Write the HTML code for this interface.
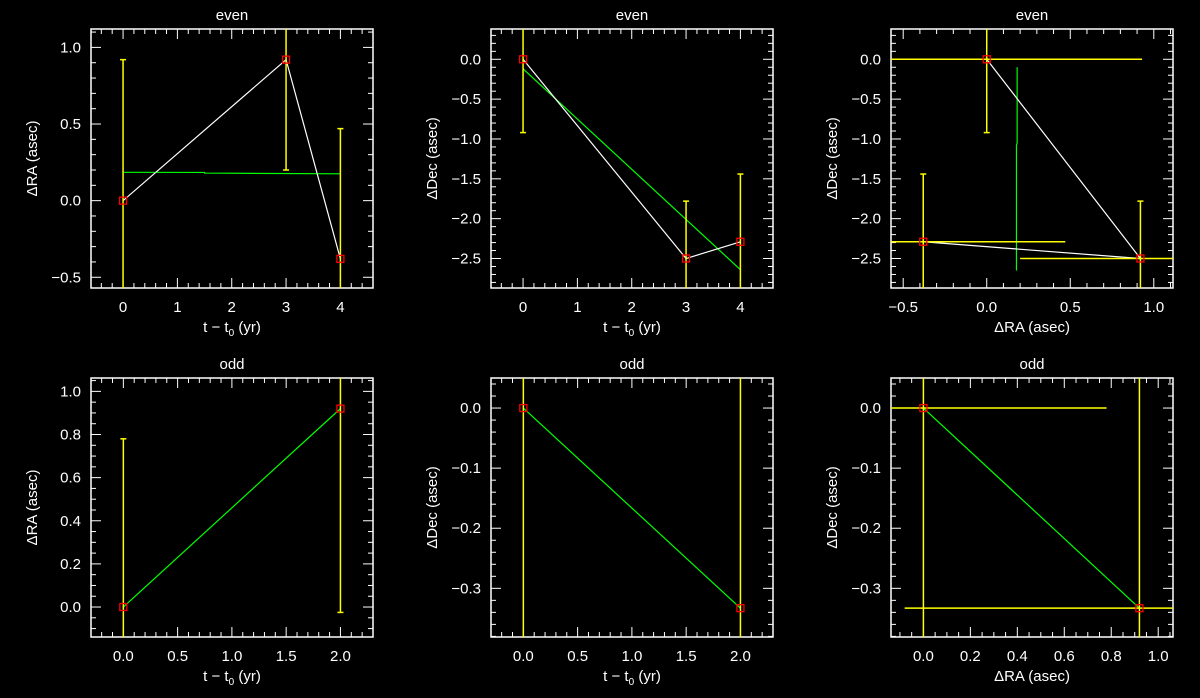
<!DOCTYPE html>
<html><head><meta charset="utf-8"><style>
html,body{margin:0;padding:0;background:#000;width:1200px;height:698px;overflow:hidden;}
svg{display:block;}
text{font-family:"Liberation Sans",sans-serif;fill:#fff;}
</style></head><body>
<svg id="chart" width="1200" height="698" viewBox="0 0 1200 698"></svg>
<script>
// Panel 1: even, RA vs t
const p1T=[0,3,4];
const p1RA=[0,0.92,-0.38];
const p1Err=[0.92,0.72,0.85];
const p1FitT=[0,1.5,1.5,4];
const p1FitV=[0.185,0.184,0.18,0.175];
// Panel 2: even, Dec vs t
const p2T=[0,3,4];
const p2Dec=[0,-2.5,-2.29];
const p2Err=[0.92,0.72,0.85];
const p2FitT=[0,4];
const p2FitV=[-0.12,-2.64];
// Panel 3: even, Dec vs RA
const p3RA=[0,0.92,-0.38];
const p3Dec=[0,-2.5,-2.29];
const p3ErrRA=[0.93,0.72,0.85];
const p3ErrDec=[0.92,0.72,0.85];
const p3FitRA=[0.182,0.182,0.178,0.178];
const p3FitDec=[-0.1,-1.05,-1.08,-2.65];
// Panel 4: odd, RA vs t
const p4T=[0,2];
const p4RA=[0,0.92];
const p4Err=[0.78,0.945];
// Panel 5: odd, Dec vs t
const p5T=[0,2];
const p5Dec=[0,-0.333];
const p5Err=[0.92,0.92];
// Panel 6: odd, Dec vs RA
const p6RA=[0,0.92];
const p6Dec=[0,-0.333];
const p6ErrRA=[0.78,1.0];
const p6ErrDec=[0.92,0.92];

const NS='http://www.w3.org/2000/svg';
const svg=document.getElementById('chart');
function mk(tag,attrs,parent){const e=document.createElementNS(NS,tag);for(const k in attrs)e.setAttribute(k,attrs[k]);(parent||svg).appendChild(e);return e;}

function fmt(v,d){let s=Math.abs(v)<1e-9?(0).toFixed(d):v.toFixed(d);return s.replace('-','\u2212');}

function panel(cfg){
  const g=mk('g',{});
  
  
  const L=cfg.box[0],R=cfg.box[1],T=cfg.box[2],B=cfg.box[3];
  const sx=v=>L+(v-cfg.xr[0])/(cfg.xr[1]-cfg.xr[0])*(R-L);
  const sy=v=>B-(v-cfg.yr[0])/(cfg.yr[1]-cfg.yr[0])*(B-T);
  const cid='clip'+cfg.id;
  const cp=mk('clipPath',{id:cid},g);mk('rect',{x:L,y:T,width:R-L,height:B-T},cp);
  const tg=mk('g',{stroke:'#fff','stroke-width':1},g);
  
  const eps=1e-9;
  for(let v=Math.ceil(cfg.xr[0]/cfg.xmin-eps)*cfg.xmin;v<=cfg.xr[1]+eps;v+=cfg.xmin){
    const maj=Math.abs(v/cfg.xmaj-Math.round(v/cfg.xmaj))<1e-6;const len=maj?10:5;const x=sx(v);
    mk('line',{x1:x,y1:B,x2:x,y2:B-len},tg);mk('line',{x1:x,y1:T,x2:x,y2:T+len},tg);
    if(maj){const t=mk('text',{x:x,y:B+24,'text-anchor':'middle','font-size':15},g);t.textContent=fmt(v,cfg.xd);
      }
  }
  for(let v=Math.ceil(cfg.yr[0]/cfg.ymin-eps)*cfg.ymin;v<=cfg.yr[1]+eps;v+=cfg.ymin){
    const maj=Math.abs(v/cfg.ymaj-Math.round(v/cfg.ymaj))<1e-6;const len=maj?10:5;const y=sy(v);
    mk('line',{x1:L,y1:y,x2:L+len,y2:y},tg);mk('line',{x1:R,y1:y,x2:R-len,y2:y},tg);
    if(maj){const t=mk('text',{x:L-10,y:y+5,'text-anchor':'end','font-size':15},g);t.textContent=fmt(v,cfg.yd);
      }
  }
  const box=mk('rect',{x:L,y:T,width:R-L,height:B-T,fill:'none',stroke:'#fff','stroke-width':1.5},g);
  
  const tt=mk('text',{x:(L+R)/2,y:T-9,'text-anchor':'middle','font-size':15},g);tt.textContent=cfg.title;
  
  const xl=mk('text',{x:(L+R)/2,y:B+44,'text-anchor':'middle','font-size':15},g);
  if(cfg.xlab==='t'){xl.innerHTML='t \u2212 t<tspan font-size="10" dy="4">0</tspan><tspan dy="-4"> (yr)</tspan>';}else xl.textContent=cfg.xlab;
  
  const yl=mk('text',{x:0,y:0,'text-anchor':'middle','font-size':15,transform:`translate(${L-54},${(T+B)/2}) rotate(-90)`},g);yl.textContent=cfg.ylab;
  
  const dg=mk('g',{'clip-path':`url(#${cid})`},g);
  
  if(cfg.fx){const pts=cfg.fx.map((v,i)=>sx(v)+','+sy(cfg.fy[i])).join(' ');
    const f=mk('polyline',{points:pts,fill:'none',stroke:'#00ff00','stroke-width':1.2},dg);
    }
  if(cfg.line){const pts=cfg.x.map((v,i)=>sx(v)+','+sy(cfg.y[i])).join(' ');
    const c=mk('polyline',{points:pts,fill:'none',stroke:cfg.lineColor,'stroke-width':1.2},dg);
    }
  cfg.x.forEach((xv,i)=>{
    const X=sx(xv),Y=sy(cfg.y[i]);
    if(cfg.ey){const y1=sy(cfg.y[i]+cfg.ey[i]),y2=sy(cfg.y[i]-cfg.ey[i]);
      const e=mk('line',{x1:X,y1:y1,x2:X,y2:y2,stroke:'#ffff00','stroke-width':1.5},dg);
      
      if(cfg.caps){mk('line',{x1:X-3,y1:y1,x2:X+3,y2:y1,stroke:'#ffff00','stroke-width':1.5},dg);mk('line',{x1:X-3,y1:y2,x2:X+3,y2:y2,stroke:'#ffff00','stroke-width':1.5},dg);}}
    if(cfg.ex){const e=mk('line',{x1:sx(xv-cfg.ex[i]),y1:Y,x2:sx(xv+cfg.ex[i]),y2:Y,stroke:'#ffff00','stroke-width':1.5},dg);
      }
  });
  cfg.x.forEach((xv,i)=>{
    const m=mk('rect',{x:sx(xv)-3.5,y:sy(cfg.y[i])-3.5,width:7,height:7,fill:'none',stroke:'#ff0000','stroke-width':1.3},g);
    
  });
}
const topBox=[91,373,29,288], botBox=[91,373,378,637];
const off=(b,dx)=>[b[0]+dx,b[1]+dx,b[2],b[3]];
panel({id:1,name:'panel-even-ra',box:topBox,xr:[-0.59,4.6],yr:[-0.57,1.12],xmaj:1,xmin:0.2,ymaj:0.5,ymin:0.1,xd:0,yd:1,title:'even',xlab:'t',ylab:'\u0394RA (asec)',x:p1T,y:p1RA,ey:p1Err,caps:true,line:true,lineColor:'#fff',fx:p1FitT,fy:p1FitV});
panel({id:2,name:'panel-even-dec',box:off(topBox,400),xr:[-0.59,4.6],yr:[-2.87,0.38],xmaj:1,xmin:0.2,ymaj:0.5,ymin:0.1,xd:0,yd:1,title:'even',xlab:'t',ylab:'\u0394Dec (asec)',x:p2T,y:p2Dec,ey:p2Err,caps:true,line:true,lineColor:'#fff',fx:p2FitT,fy:p2FitV});
panel({id:3,name:'panel-even-radec',box:off(topBox,800),xr:[-0.573,1.115],yr:[-2.87,0.38],xmaj:0.5,xmin:0.1,ymaj:0.5,ymin:0.1,xd:1,yd:1,title:'even',xlab:'\u0394RA (asec)',ylab:'\u0394Dec (asec)',x:p3RA,y:p3Dec,ey:p3ErrDec,ex:p3ErrRA,caps:true,line:true,lineColor:'#fff',fx:p3FitRA,fy:p3FitDec});
panel({id:4,name:'panel-odd-ra',box:botBox,xr:[-0.298,2.3],yr:[-0.139,1.062],xmaj:0.5,xmin:0.1,ymaj:0.2,ymin:0.05,xd:1,yd:1,title:'odd',xlab:'t',ylab:'\u0394RA (asec)',x:p4T,y:p4RA,ey:p4Err,caps:true,line:true,lineColor:'#00ff00'});
panel({id:5,name:'panel-odd-dec',box:off(botBox,400),xr:[-0.298,2.3],yr:[-0.381,0.05],xmaj:0.5,xmin:0.1,ymaj:0.1,ymin:0.02,xd:1,yd:1,title:'odd',xlab:'t',ylab:'\u0394Dec (asec)',x:p5T,y:p5Dec,ey:p5Err,caps:true,line:true,lineColor:'#00ff00'});
panel({id:6,name:'panel-odd-radec',box:off(botBox,800),xr:[-0.138,1.063],yr:[-0.381,0.05],xmaj:0.2,xmin:0.05,ymaj:0.1,ymin:0.02,xd:1,yd:1,title:'odd',xlab:'\u0394RA (asec)',ylab:'\u0394Dec (asec)',x:p6RA,y:p6Dec,ey:p6ErrDec,ex:p6ErrRA,caps:false,line:true,lineColor:'#00ff00'});
</script>
</body></html>
